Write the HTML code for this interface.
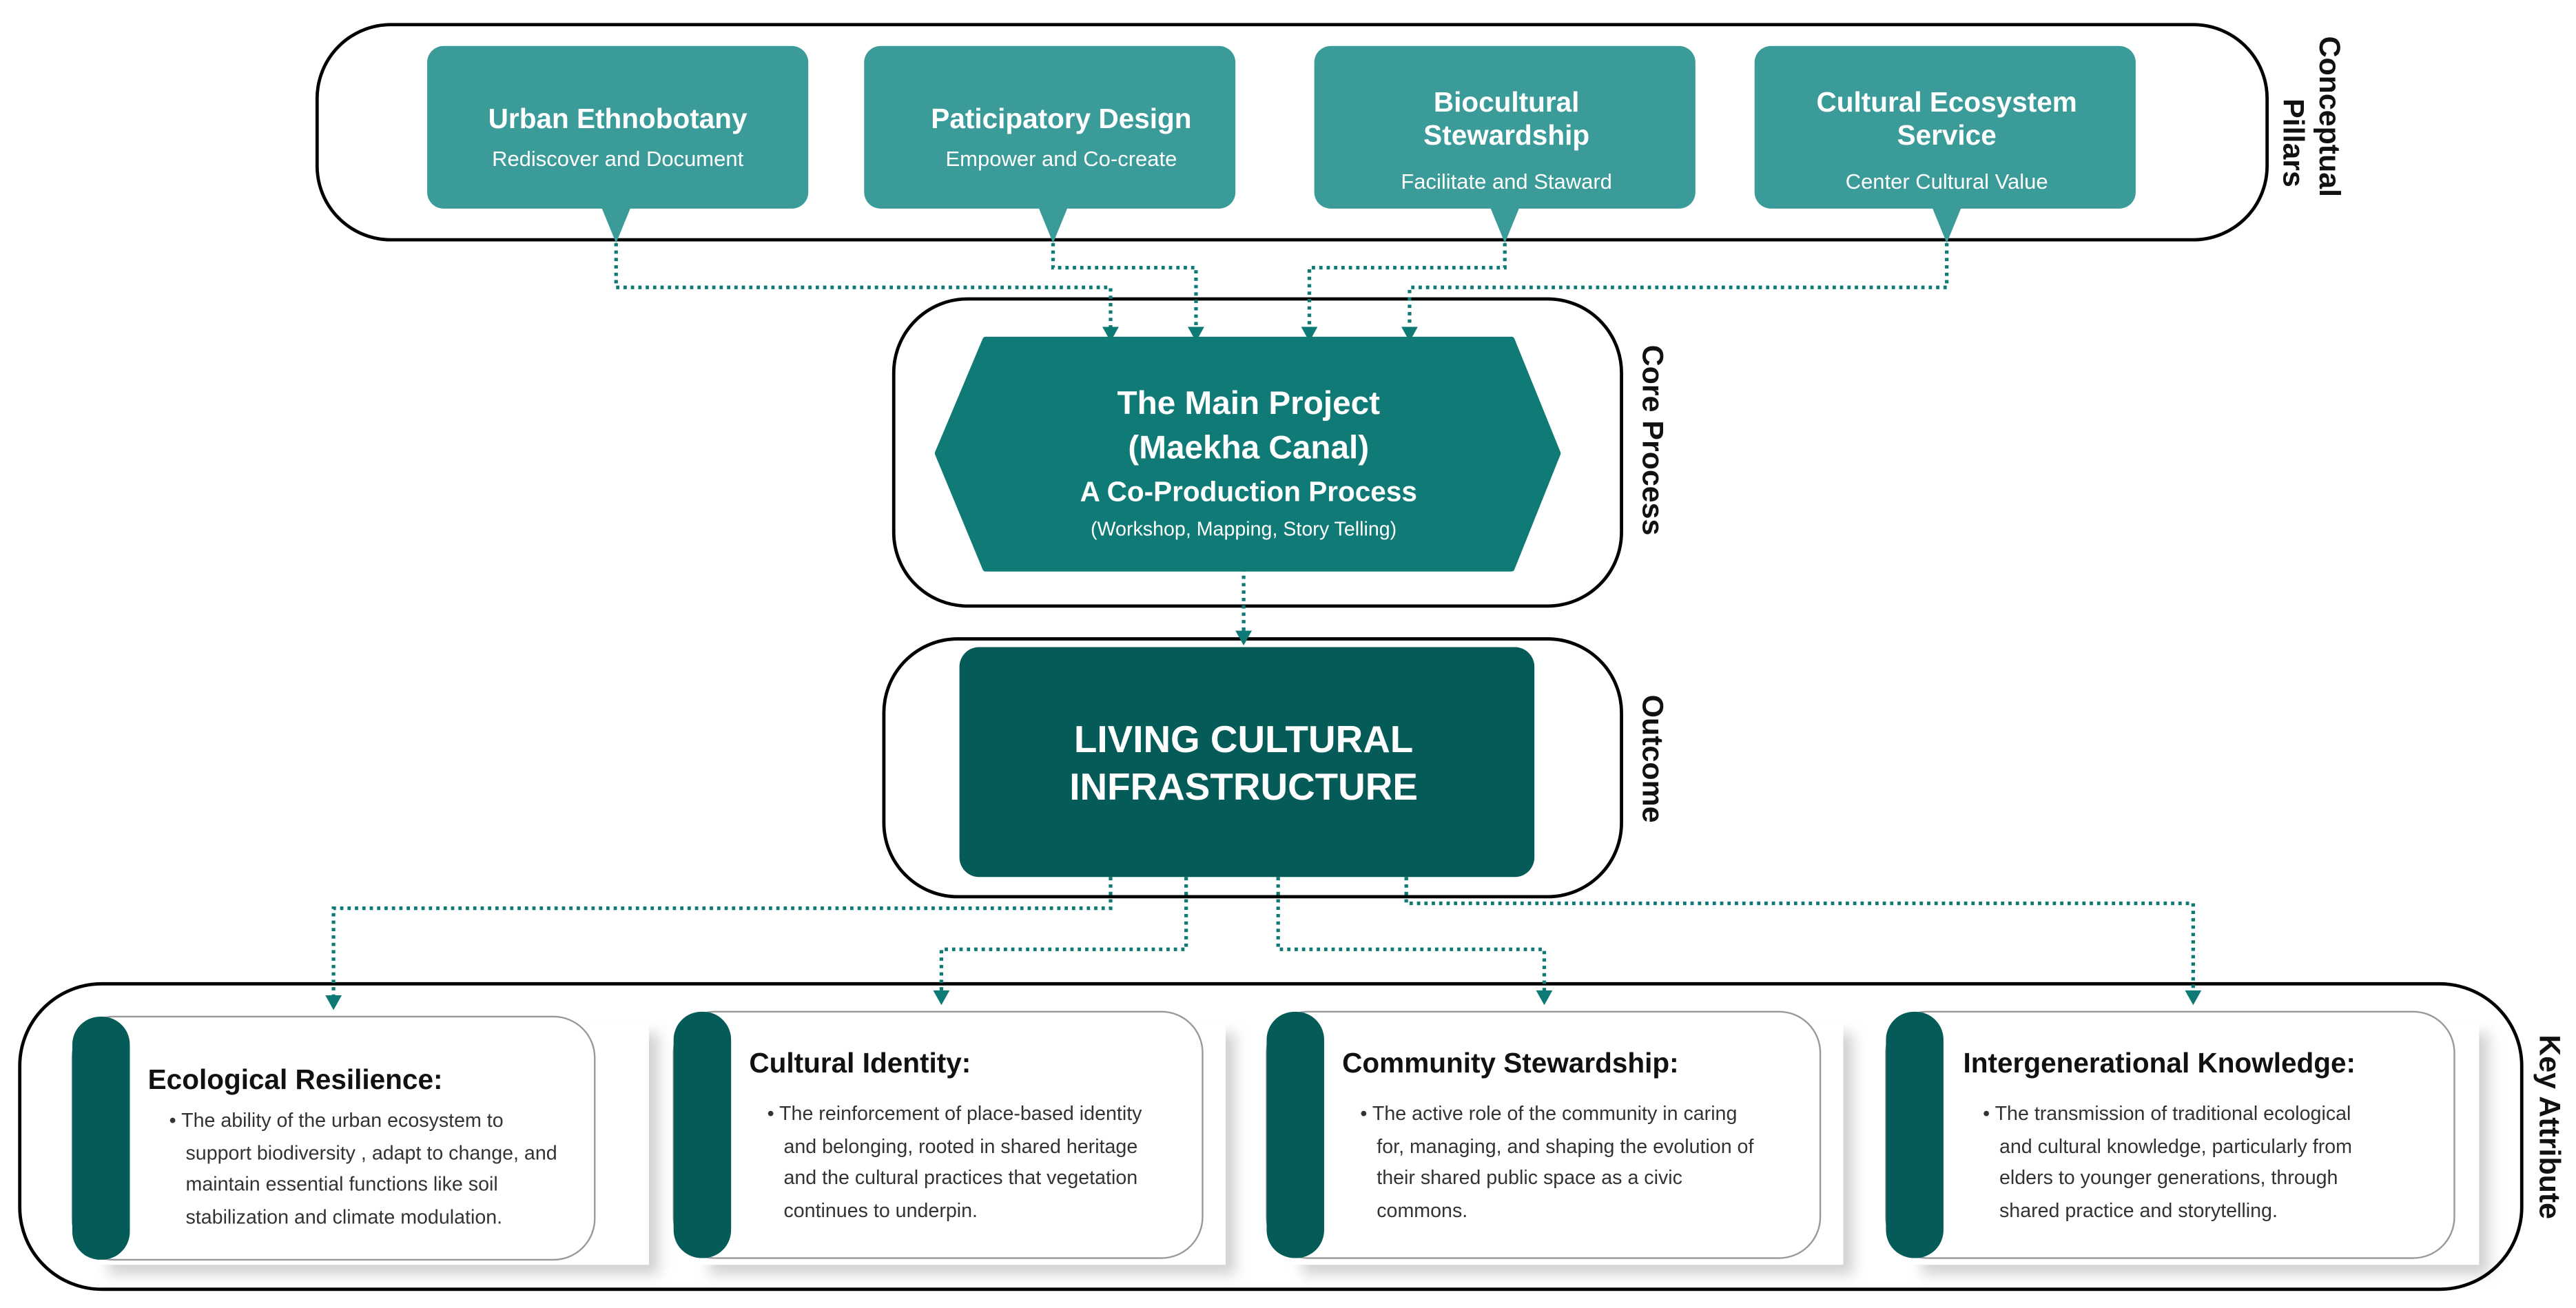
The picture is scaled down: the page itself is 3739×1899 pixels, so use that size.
<!DOCTYPE html>
<html><head><meta charset="utf-8"><style>
html,body{margin:0;padding:0;background:#fff}
svg{display:block}
text{font-family:"Liberation Sans",sans-serif}
</style></head><body>
<svg width="3739" height="1899" viewBox="0 0 1568 796.4" xmlns="http://www.w3.org/2000/svg">
<defs>
<marker id="ar" viewBox="0 0 10 10" refX="5" refY="9" markerWidth="4" markerHeight="4" orient="auto-start-reverse" markerUnits="userSpaceOnUse">
</marker>
<filter id="sh" x="-10%" y="-10%" width="130%" height="140%"><feDropShadow dx="6" dy="6" stdDeviation="4" flood-color="#000" flood-opacity="0.18"/></filter>
</defs>
<g fill="none" stroke="#000" stroke-width="2">
<rect x="193" y="15" width="1187" height="131" rx="45"/>
<rect x="544" y="182" width="443" height="187" rx="45"/>
<rect x="538" y="389" width="449" height="157" rx="45"/>
<rect x="12" y="599" width="1523" height="186" rx="50"/>
</g>
<g font-weight="bold" font-size="18" fill="#111">
<text transform="translate(1412,22) rotate(90)">Conceptual</text>
<text transform="translate(1390,60) rotate(90)">Pillars</text>
<text transform="translate(1000,210) rotate(90)">Core Process</text>
<text transform="translate(1000,423) rotate(90)">Outcome</text>
<text transform="translate(1546,630) rotate(90)">Key Attribute</text>
</g>
<!-- pillars -->
<g fill="#3a9b99">
<rect x="260" y="28" width="232" height="99" rx="10"/><polygon points="366,126 384,126 375,148"/>
<rect x="526" y="28" width="226" height="99" rx="10"/><polygon points="632,126 650,126 641,148"/>
<rect x="800" y="28" width="232" height="99" rx="10"/><polygon points="907,126 925,126 916,148"/>
<rect x="1068" y="28" width="232" height="99" rx="10"/><polygon points="1176,126 1194,126 1185,148"/>
</g>
<g fill="#fff" text-anchor="middle">
<text x="376" y="78" font-size="17" font-weight="bold">Urban Ethnobotany</text>
<text x="376" y="101" font-size="13">Rediscover and Document</text>
<text x="646" y="78" font-size="17" font-weight="bold">Paticipatory Design</text>
<text x="646" y="101" font-size="13">Empower and Co-create</text>
<text x="917" y="68" font-size="17" font-weight="bold">Biocultural</text>
<text x="917" y="88" font-size="17" font-weight="bold">Stewardship</text>
<text x="917" y="115" font-size="13">Facilitate and Staward</text>
<text x="1185" y="68" font-size="17" font-weight="bold">Cultural Ecosystem</text>
<text x="1185" y="88" font-size="17" font-weight="bold">Service</text>
<text x="1185" y="115" font-size="13">Center Cultural Value</text>
</g>
<!-- connectors -->
<g fill="none" stroke="#0e7a76" stroke-width="2.2" stroke-dasharray="2,2.5">
<polyline points="375,148 375,175 676,175 676,200"/>
<polyline points="641,148 641,163 728,163 728,200"/>
<polyline points="916,148 916,163 797,163 797,200"/>
<polyline points="1185,148 1185,175 858,175 858,200"/>
<polyline points="757,346 757,386"/>
<polyline points="676,534 676,553 203,553 203,609"/>
<polyline points="722,534 722,578 573,578 573,606"/>
<polyline points="778,534 778,578 940,578 940,606"/>
<polyline points="856,534 856,550 1335,550 1335,606"/>
</g>
<g fill="#0e7a76">
<polygon points="671,199 681,199 676,208"/>
<polygon points="723,199 733,199 728,208"/>
<polygon points="792,199 802,199 797,208"/>
<polygon points="853,199 863,199 858,208"/>
<polygon points="752,384 762,384 757,393"/>
<polygon points="198,606 208,606 203,615"/>
<polygon points="568,603 578,603 573,612"/>
<polygon points="935,603 945,603 940,612"/>
<polygon points="1330,603 1340,603 1335,612"/>
</g>
<!-- hexagon -->
<polygon points="600,207 920,207 948,276 920,346 600,346 571,276" fill="#0f7a76" stroke="#0f7a76" stroke-width="4" stroke-linejoin="round"/>
<g fill="#fff" text-anchor="middle" font-weight="bold">
<text x="760" y="252" font-size="20">The Main Project</text>
<text x="760" y="279" font-size="20">(Maekha Canal)</text>
<text x="760" y="305" font-size="17">A Co-Production Process</text>
<text x="757" y="326" font-size="12" font-weight="normal">(Workshop, Mapping, Story Telling)</text>
</g>
<rect x="584" y="394" width="350" height="140" rx="12" fill="#045b57"/>
<g fill="#fff" text-anchor="middle" font-size="23" font-weight="bold">
<text x="757" y="458">LIVING CULTURAL</text>
<text x="757" y="487">INFRASTRUCTURE</text>
</g>
<!-- cards -->
<g>
<rect x="60" y="623" width="335" height="147" fill="#fff" filter="url(#sh)"/>
<rect x="44" y="619" width="318" height="148" rx="25" fill="#fff" stroke="#999" stroke-width="1"/>
<rect x="44" y="619" width="35" height="148" rx="17" fill="#045b57"/>
<rect x="426" y="623" width="320" height="147" fill="#fff" filter="url(#sh)"/>
<rect x="410" y="616" width="322" height="150" rx="25" fill="#fff" stroke="#999" stroke-width="1"/>
<rect x="410" y="616" width="35" height="150" rx="17" fill="#045b57"/>
<rect x="787" y="623" width="335" height="147" fill="#fff" filter="url(#sh)"/>
<rect x="771" y="616" width="337" height="150" rx="25" fill="#fff" stroke="#999" stroke-width="1"/>
<rect x="771" y="616" width="35" height="150" rx="17" fill="#045b57"/>
<rect x="1164" y="623" width="345" height="147" fill="#fff" filter="url(#sh)"/>
<rect x="1148" y="616" width="346" height="150" rx="25" fill="#fff" stroke="#999" stroke-width="1"/>
<rect x="1148" y="616" width="35" height="150" rx="17" fill="#045b57"/>
</g>
<g fill="#111" font-weight="bold" font-size="17">
<text x="90" y="663">Ecological Resilience:</text>
<text x="456" y="653">Cultural Identity:</text>
<text x="817" y="653">Community Stewardship:</text>
<text x="1195" y="653">Intergenerational Knowledge:</text>
</g>
<g fill="#333" font-size="12">
<text x="103" y="686">• The ability of the urban ecosystem to</text>
<text x="113" y="706">support biodiversity , adapt to change, and</text>
<text x="113" y="725">maintain essential functions like soil</text>
<text x="113" y="745">stabilization and climate modulation.</text>
<text x="467" y="682">• The reinforcement of place-based identity</text>
<text x="477" y="702">and belonging, rooted in shared heritage</text>
<text x="477" y="721">and the cultural practices that vegetation</text>
<text x="477" y="741">continues to underpin.</text>
<text x="828" y="682">• The active role of the community in caring</text>
<text x="838" y="702">for, managing, and shaping the evolution of</text>
<text x="838" y="721">their shared public space as a civic</text>
<text x="838" y="741">commons.</text>
<text x="1207" y="682">•  The transmission of traditional ecological</text>
<text x="1217" y="702">and cultural knowledge, particularly from</text>
<text x="1217" y="721">elders to younger generations, through</text>
<text x="1217" y="741">shared practice and storytelling.</text>
</g>
</svg>
</body></html>
